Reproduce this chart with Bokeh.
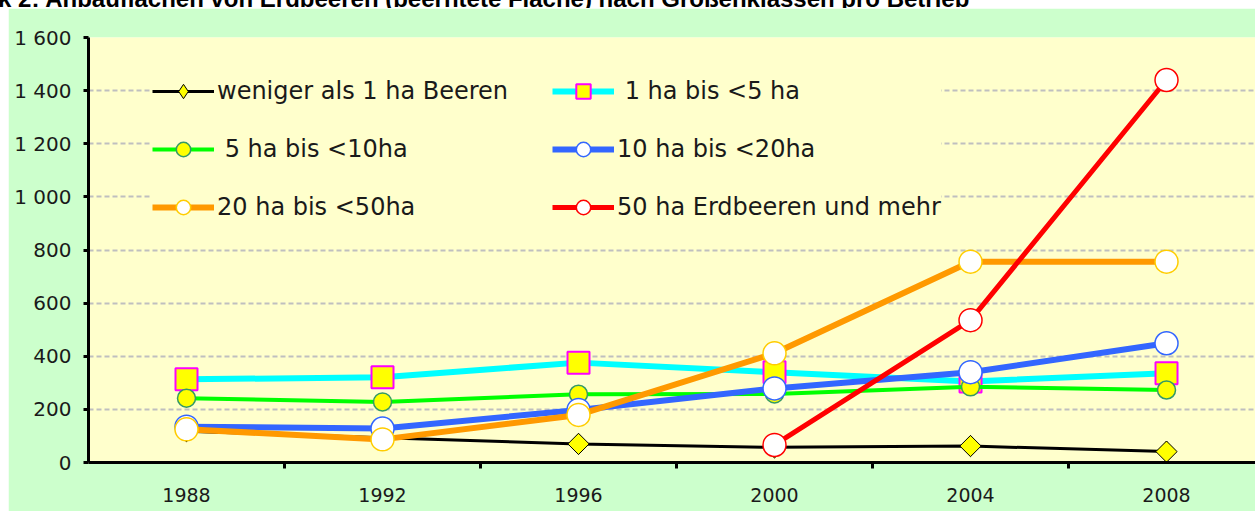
import math
from bokeh.plotting import figure
from bokeh.layouts import column, row
from bokeh.models import Range1d, FixedTicker, Legend, LegendItem, Label, Div, Spacer
from bokeh.embed import file_html
from bokeh.resources import INLINE

# ---- data ----
title = "Grafik 2: Anbauflächen von Erdbeeren (beerntete Fläche) nach Größenklassen pro Betrieb"
years = ["1988", "1992", "1996", "2000", "2004", "2008"]
red_years = ["2000", "2004", "2008"]
weniger_1ha = [118, 93, 70, 57, 62, 41]
ha_1_bis_5 = [313, 321, 376, 340, 305, 336]
ha_5_bis_10 = [242, 228, 257, 258, 285, 273]
ha_10_bis_20 = [135, 128, 198, 279, 340, 449]
ha_20_bis_50 = [125, 87, 179, 411, 756, 756]
ha_50_und_mehr = [66, 536, 1440]
y_ticks = [0, 200, 400, 600, 800, 1000, 1200, 1400, 1600]
series_names = [
    "weniger als 1 ha Beeren",
    " 1 ha bis <5 ha",
    " 5 ha bis <10ha",
    "10 ha bis <20ha",
    "20 ha bis <50ha",
    "50 ha Erdbeeren und mehr",
]

FONT = "DejaVu Sans"
TXT = "#1a1a1a"

p = figure(
    width=1247, height=503,
    x_range=Range1d(-0.5, 5.454), y_range=Range1d(0, 1600),
    output_backend="svg", toolbar_location=None,
    background_fill_color="#ffffcc", border_fill_color="#ccffcc",
    min_border_left=80, min_border_right=0, min_border_top=29, min_border_bottom=49,
    outline_line_color=None, margin=0,
)

def xs(labels):
    return [years.index(y) for y in labels]

styles = [
    dict(lc="black", lw=3, marker="diamond", size=21, fill="#ffff00", mlc="black", mlw=1),
    dict(lc="#00ffff", lw=6, marker="square", size=22, fill="#ffff00", mlc="#ff00ff", mlw=2),
    dict(lc="#00ff00", lw=4, marker="circle", size=18, fill="#ffff00", mlc="#339966", mlw=1.5),
    dict(lc="#3366ff", lw=6, marker="circle", size=23, fill="white", mlc="#3366ff", mlw=1.5),
    dict(lc="#ff9900", lw=6, marker="circle", size=23, fill="white", mlc="#ffcc00", mlw=1.5),
    dict(lc="#ff0000", lw=5, marker="circle", size=23, fill="white", mlc="#ff0000", mlw=1.5),
]
data = [
    (years, weniger_1ha),
    (years, ha_1_bis_5),
    (years, ha_5_bis_10),
    (years, ha_10_bis_20),
    (years, ha_20_bis_50),
    (red_years, ha_50_und_mehr),
]

renderers = []
for k, ((lab, vals), st) in enumerate(zip(data, styles)):
    x = xs(lab)
    lr = p.line(x, vals, line_color=st["lc"], line_width=st["lw"])
    sr = p.scatter(x, vals, marker=st["marker"], size=st["size"],
                   fill_color=st["fill"], line_color=st["mlc"], line_width=st["mlw"])
    if k == 0:
        # square-shaped diamond for the plotted points (legend keeps the diamond marker)
        p.scatter(x, vals, marker="square", size=15, angle=math.pi / 4,
                  fill_color=st["fill"], line_color=st["mlc"], line_width=st["mlw"])
    renderers.append([lr, sr])

# ---- axes ----
xa = p.xaxis[0]
xa.ticker = FixedTicker(ticks=list(range(len(years))),
                        minor_ticks=[i + 0.5 for i in range(len(years) - 1)])
xa.major_label_overrides = {i: y for i, y in enumerate(years)}
xa.major_tick_out = 0
xa.major_tick_in = 0
xa.minor_tick_out = 6
xa.minor_tick_in = 0
xa.minor_tick_line_width = 3
xa.minor_tick_line_color = "black"
xa.axis_line_width = 3
xa.axis_line_color = "black"
xa.major_label_text_font = FONT
xa.major_label_text_font_size = "19px"
xa.major_label_text_color = TXT
xa.major_label_standoff = 19

ya = p.yaxis[0]
ya.ticker = FixedTicker(ticks=y_ticks)
ya.major_label_overrides = {v: f"{v:,}".replace(",", " ") for v in y_ticks}
ya.major_tick_out = 5
ya.major_tick_in = 0
ya.major_tick_line_width = 3
ya.minor_tick_line_color = None
ya.axis_line_width = 3
ya.axis_line_color = "black"
ya.major_label_text_font = FONT
ya.major_label_text_font_size = "20px"
ya.major_label_text_color = TXT
ya.major_label_standoff = 12

p.xgrid.grid_line_color = None
p.ygrid.ticker = FixedTicker(ticks=y_ticks[1:])
p.ygrid.grid_line_color = "#bfbfbf"
p.ygrid.grid_line_width = 2
p.ygrid.grid_line_dash = "5 3"

p.add_layout(Label(x=-0.5, y=1465, x_offset=-44, text="ha", text_align="center",
                   text_baseline="alphabetic", text_font=FONT, text_font_size="20px",
                   text_color=TXT))

# ---- legends ----
def make_legend(idx, loc, label_width):
    return Legend(
        items=[LegendItem(label=series_names[i], renderers=renderers[i]) for i in idx],
        location=loc, orientation="vertical",
        glyph_width=62, glyph_height=36, label_height=36, label_width=label_width,
        label_standoff=3, spacing=22, padding=8, margin=0,
        background_fill_color="#ffffcc", background_fill_alpha=1.0,
        border_line_color=None,
        label_text_font=FONT, label_text_font_size="24px", label_text_color=TXT,
    )

p.add_layout(make_legend([0, 2, 4], (64, 237), 345))
p.add_layout(make_legend([1, 3, 5], (464, 237), 322))

# ---- title strip (only its lower part is visible, as in the reference) ----
title_div = Div(
    text=(f'<div style="position:relative; top:-15px; left:-58px; white-space:nowrap; '
          f'font-family:\'Liberation Sans\'; font-weight:bold; font-size:24px; '
          f'line-height:28px; color:#000;">{title}</div>'),
    width=1255, height=8, margin=0,
    styles={"overflow": "hidden", "height": "8px", "background": "white"},
)

layout = column(title_div, row(Spacer(width=8, height=503, margin=0), p, spacing=0),
                spacing=0, margin=0)

open("out.html", "w").write(file_html(layout, INLINE))
